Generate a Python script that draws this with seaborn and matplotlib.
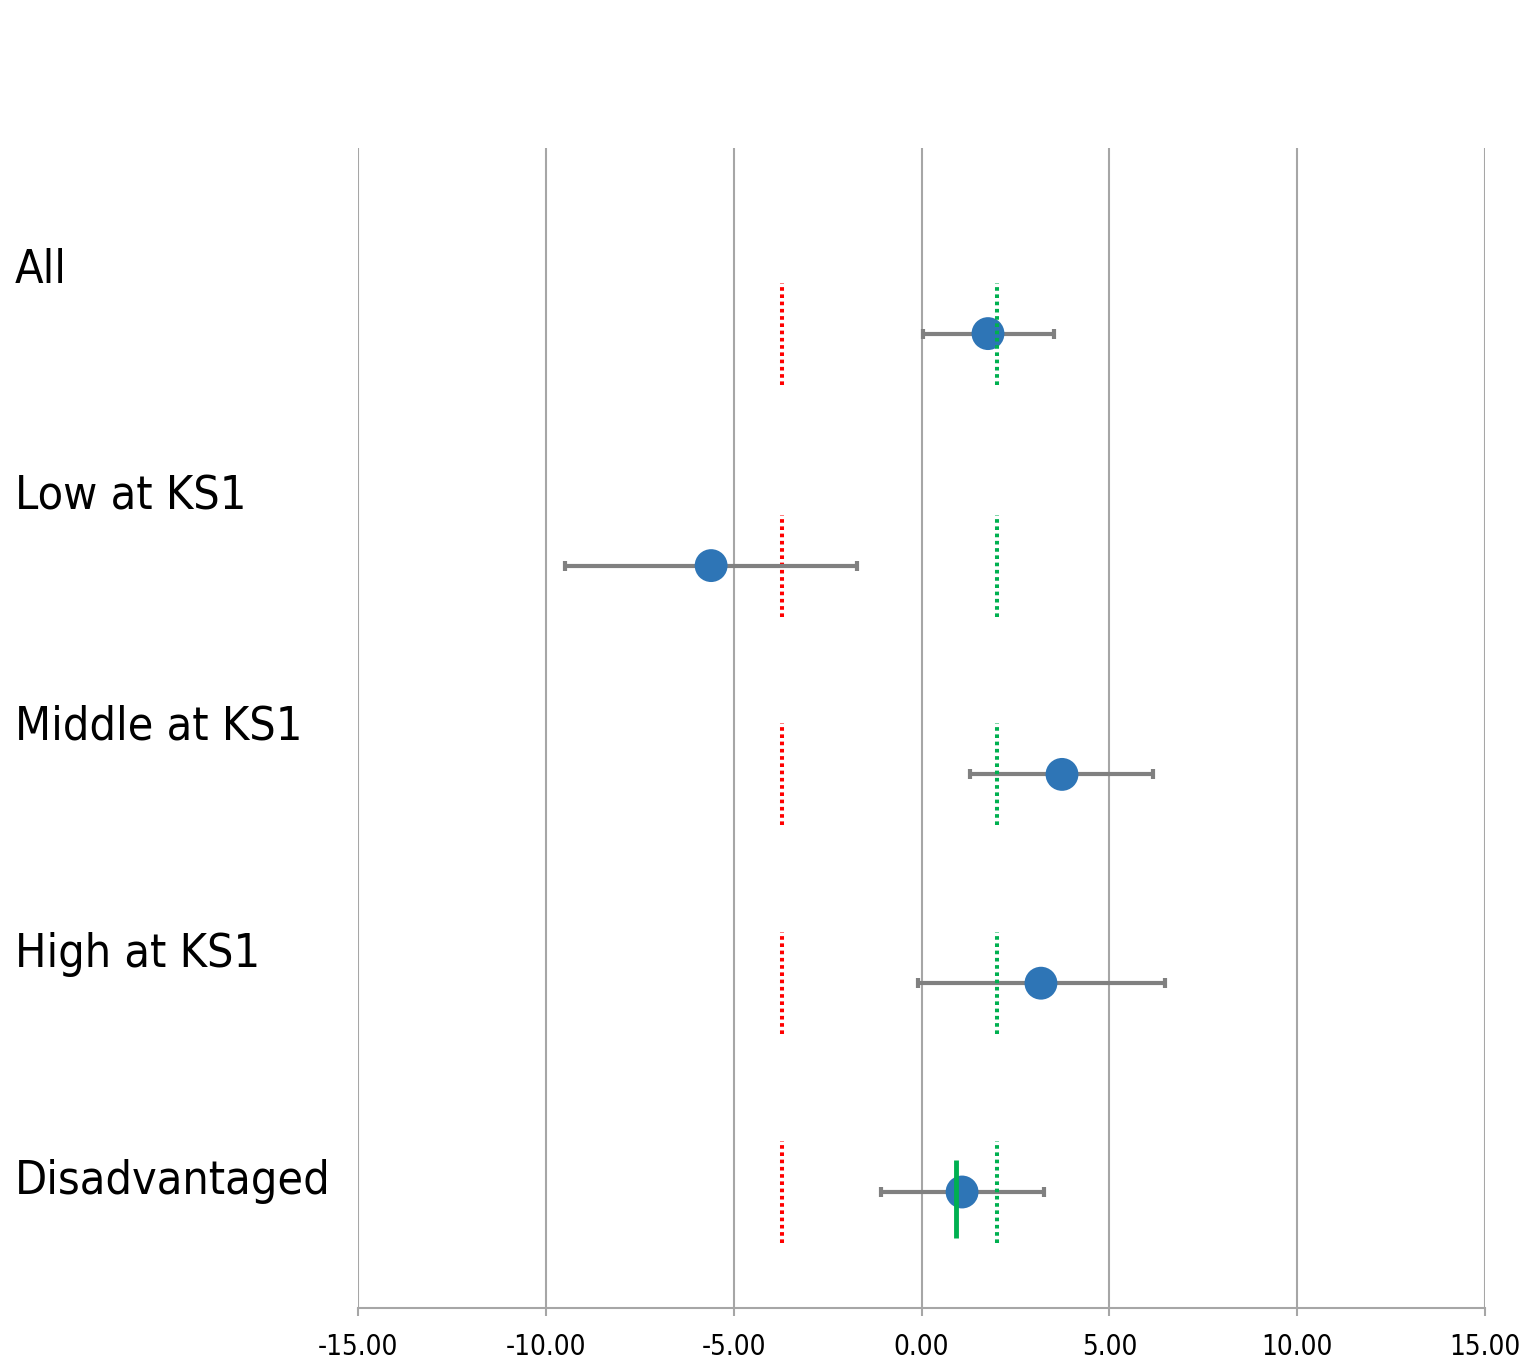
import matplotlib
matplotlib.use("Agg")
import matplotlib.pyplot as plt
import seaborn as sns
import pandas as pd
import numpy as np

# ---- data ----
categories = ["All", "Low at KS1", "Middle at KS1", "High at KS1", "Disadvantaged"]
estimate = [1.77, -5.60, 3.74, 3.18, 1.08]
ci_low = [0.04, -9.49, 1.29, -0.09, -1.08]
ci_high = [3.53, -1.72, 6.16, 6.48, 3.26]
row_y = [4.20, 3.20, 2.30, 1.40, 0.50]        # vertical position of each row
label_y = [4.42, 3.44, 2.45, 1.47, 0.49]      # baseline position of each row label
red_ref = -3.71
green_ref = 2.01
disadv_ref = 0.92
x_ticks = [-15, -10, -5, 0, 5, 10, 15]

df = pd.DataFrame({"category": categories, "estimate": estimate,
                   "low": ci_low, "high": ci_high, "y": row_y})

sns.set_theme(style="white")
plt.rcParams["font.family"] = ["DejaVu Sans"]

fig = plt.figure(figsize=(15.27, 13.68), dpi=100)
ax = fig.add_axes([358/1527, 1 - 1308/1368, 1127/1527, 1160/1368])

ax.set_xlim(-15, 15)
ax.set_ylim(0, 5)

# gridlines
ax.set_xticks(x_ticks)
ax.set_xticklabels([f"{v:.2f}" for v in x_ticks])
ax.xaxis.grid(True, color="#A6A6A6", linewidth=1.5)
ax.yaxis.grid(False)
ax.set_axisbelow(True)
ax.set_yticks([])

# reference segments per row
half = 0.22
for yv in df["y"]:
    ax.plot([red_ref, red_ref], [yv - half, yv + half], color="#FF0000",
            linewidth=2.9, linestyle=(0, (0.9, 0.9)), zorder=2)
    ax.plot([green_ref, green_ref], [yv - half, yv + half], color="#00B050",
            linewidth=2.9, linestyle=(0, (0.9, 0.9)), zorder=4)

# error bars
xerr = np.vstack([df["estimate"] - df["low"], df["high"] - df["estimate"]])
ax.errorbar(df["estimate"], df["y"], xerr=xerr, fmt="none", ecolor="#808080",
            elinewidth=3.0, capsize=3.8, capthick=3.0, zorder=2.5)

# points
sns.scatterplot(data=df, x="estimate", y="y", ax=ax, s=560, color="#2E75B6",
                edgecolor="none", zorder=3, legend=False)

# solid green marker for Disadvantaged
yd = df["y"].iloc[4]
ax.plot([disadv_ref, disadv_ref], [yd - 0.20, yd + 0.14], color="#00B050",
        linewidth=3.5, solid_capstyle="butt", zorder=5)

# row labels
for lab, ly in zip(categories, label_y):
    fig.text(15/1527, 1 - (1308 - ly * 232) / 1368, lab, ha="left", va="baseline",
             fontsize=33.5, fontstretch="condensed", color="black")

for s in ["left", "right", "top"]:
    ax.spines[s].set_visible(False)
ax.spines["bottom"].set_color("#A6A6A6")
ax.spines["bottom"].set_linewidth(1.5)
ax.tick_params(axis="x", which="major", direction="out", length=6, width=1.5,
               color="#A6A6A6", labelsize=20, labelcolor="black", pad=12, bottom=True)
for t in ax.get_xticklabels():
    t.set_fontstretch("condensed")
ax.set_xlabel("")
ax.set_ylabel("")

fig.savefig("out.png", dpi=100)
